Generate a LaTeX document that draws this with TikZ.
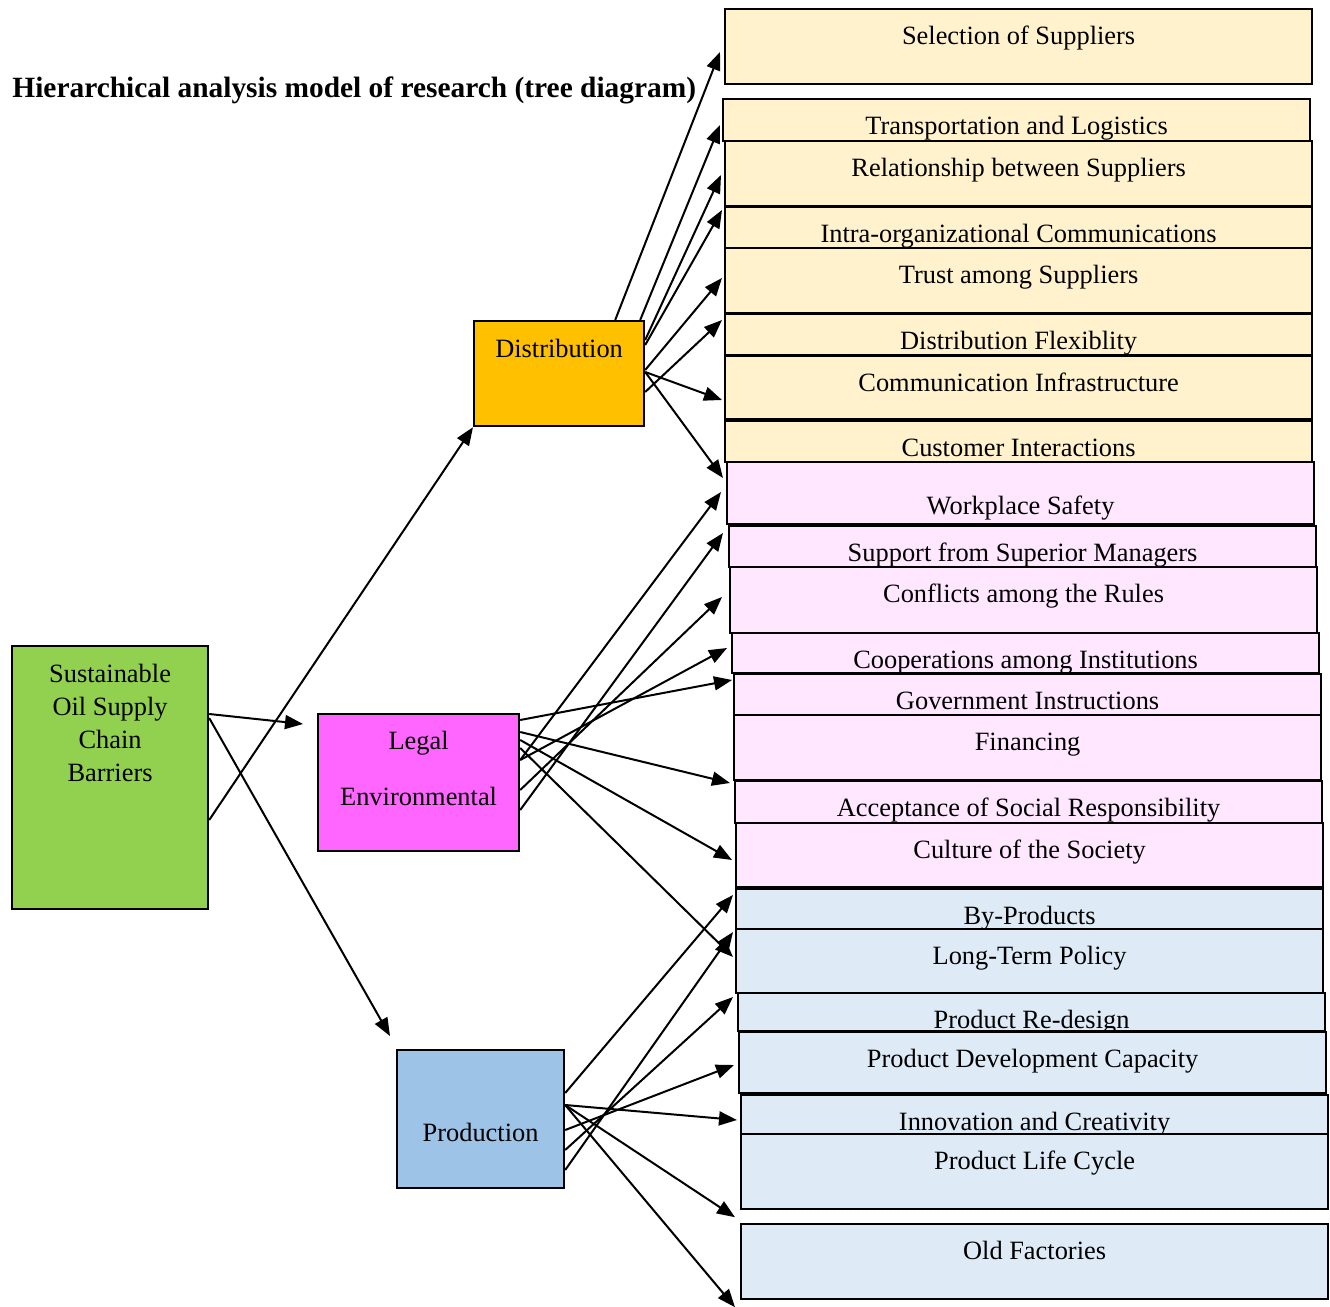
\documentclass[tikz,border=0pt]{standalone}
\usepackage{fontspec}
\setmainfont{Liberation Serif}
\usetikzlibrary{arrows.meta}
\definecolor{barriergreen}{RGB}{146,208,80}
\definecolor{distorange}{RGB}{255,192,0}
\definecolor{legalpink}{RGB}{255,102,255}
\definecolor{prodblue}{RGB}{157,195,230}
\definecolor{leafyellow}{RGB}{255,242,204}
\definecolor{leafpink}{RGB}{255,232,255}
\definecolor{leafblue}{RGB}{222,235,247}

\begin{document}
\begin{tikzpicture}[x=0.5pt,y=-0.5pt]

\tikzstyle{box} = [draw=black, line width=1.1pt, inner sep=0, anchor=north west, font=\fontsize{13.2}{16.5}\selectfont]
\tikzstyle{yellow-b} = [box, fill=leafyellow, minimum width=293.5pt, text height=17.5pt]
\tikzstyle{pink-b} = [box, fill=leafpink, minimum width=293.5pt, text height=17.5pt]
\tikzstyle{blue-b} = [box, fill=leafblue, minimum width=293.5pt, text height=17.5pt]
\tikzstyle{arrow_line} = [line width=1pt, -{Triangle[length=9pt,width=7pt]}]

\useasboundingbox (0,0) rectangle (1330,1307);

\node [anchor=base west, inner sep=0, font=\fontsize{14.7}{17}\selectfont\bfseries] (title) at (12,97) {Hierarchical analysis model of research (tree diagram)};

% main blocks
\node [box, fill=barriergreen, minimum width=98pt, text height=18pt, text depth=113.5pt] (barriers) at (11,645) {\begin{tabular}[t]{c} Sustainable\\ Oil Supply\\ Chain\\ Barriers\end{tabular}};
\node [box, fill=distorange, minimum width=85pt, text height=18pt, text depth=34.5pt] (dist) at (473,320) {Distribution};
\node [box, fill=legalpink, minimum width=100.5pt, text height=17.5pt, text depth=51pt] (legal) at (317,713) {\begin{tabular}[t]{c} Legal\\[11.5pt] Environmental\end{tabular}};
\node [box, fill=prodblue, minimum width=83.5pt, text height=45.5pt, text depth=23.5pt] (prod) at (396,1049) {Production};

% distribution factors
\node [yellow-b, text depth=20pt] (sel) at (724,8) {Selection of Suppliers};
\node [yellow-b, text depth=3.5pt] (trans) at (722,98) {Transportation and Logistics};
\node [yellow-b, text depth=15pt] (rel) at (724,140) {Relationship between Suppliers};
\node [yellow-b, text depth=3pt] (intra) at (724,206) {Intra-organizational Communications};
\node [yellow-b, text depth=15pt] (trust) at (724,247) {Trust among Suppliers};
\node [yellow-b, text depth=3pt] (flex) at (724,313) {Distribution Flexiblity};
\node [yellow-b, text depth=14pt] (infra) at (724,355) {Communication Infrastructure};
\node [yellow-b, text depth=3pt] (cust) at (724,420) {Customer Interactions};

% legal environmental factors
\node [pink-b, text height=26pt, text depth=5pt] (safety) at (726,461) {Workplace Safety};
\node [pink-b, text depth=3pt] (support) at (728,525) {Support from Superior Managers};
\node [pink-b, text depth=15.5pt] (conflicts) at (729,566) {Conflicts among the Rules};
\node [pink-b, text depth=2.5pt] (coop) at (731,632) {Cooperations among Institutions};
\node [pink-b, text depth=3pt] (gov) at (733,673) {Government Instructions};
\node [pink-b, text depth=15pt] (fin) at (733,714) {Financing};
\node [pink-b, text depth=3.5pt] (accept) at (734,780) {Acceptance of Social Responsibility};
\node [pink-b, text depth=14.5pt] (culture) at (735,822) {Culture of the Society};

% production factors
\node [blue-b, text depth=2.5pt] (byprod) at (735,888) {By-Products};
\node [blue-b, text depth=14.5pt] (longterm) at (735,928) {Long-Term Policy};
\node [blue-b, text depth=1.5pt] (redesign) at (737,992) {Product Re-design};
\node [blue-b, text depth=13pt] (devcap) at (738,1031) {Product Development Capacity};
\node [blue-b, text depth=2pt] (innov) at (740,1094) {Innovation and Creativity};
\node [blue-b, text depth=20pt] (lifecycle) at (740,1133) {Product Life Cycle};
\node [blue-b, text depth=20pt] (oldfac) at (740,1223) {Old Factories};

% barriers to criteria
\draw [arrow_line] ([shift={(0,175)}]barriers.north east) -- (dist.south west);
\draw [arrow_line] ([shift={(0,69)}]barriers.north east) -- ([shift={(-14,11)}]legal.north west);
\draw [arrow_line] ([shift={(0,73)}]barriers.north east) -- ([shift={(-6,-13)}]prod.north west);

% distribution arrows
\draw [arrow_line] ([shift={(-30,0)}]dist.north east) -- ([shift={(-4,44)}]sel.north west);
\draw [arrow_line] ([shift={(-5,0)}]dist.north east) -- ([shift={(-2,27)}]trans.north west);
\draw [arrow_line] ([shift={(0,20)}]dist.north east) -- ([shift={(-3,35)}]rel.north west);
\draw [arrow_line] ([shift={(0,25)}]dist.north east) -- ([shift={(-2,4)}]intra.north west);
\draw [arrow_line] ([shift={(0,50)}]dist.north east) -- ([shift={(-2,31)}]trust.north west);
\draw [arrow_line] ([shift={(0,72)}]dist.north east) -- ([shift={(-2,7)}]flex.north west);
\draw [arrow_line] ([shift={(0,52)}]dist.north east) -- ([shift={(-2,45)}]infra.north west);
\draw [arrow_line] ([shift={(0,52)}]dist.north east) -- ([shift={(-3,17)}]safety.north west);

% legal environmental arrows
\draw [arrow_line] ([shift={(0,47)}]legal.north east) -- ([shift={(-5,31)}]safety.north west);
\draw [arrow_line] ([shift={(0,97)}]legal.north east) -- ([shift={(-5,8)}]support.north west);
\draw [arrow_line] ([shift={(0,77)}]legal.north east) -- ([shift={(-7,31)}]conflicts.north west);
\draw [arrow_line] ([shift={(0,47)}]legal.north east) -- ([shift={(-4,16)}]coop.north west);
\draw [arrow_line] ([shift={(0,7)}]legal.north east) -- ([shift={(-1,7)}]gov.north west);
\draw [arrow_line] ([shift={(0,19)}]legal.north east) -- ([shift={(-4,3)}]accept.north west);
\draw [arrow_line] ([shift={(0,27)}]legal.north east) -- ([shift={(-3,38)}]culture.north west);
\draw [arrow_line] ([shift={(0,35)}]legal.north east) -- ([shift={(-2,29)}]longterm.north west);

% production arrows
\draw [arrow_line] ([shift={(0,44)}]prod.north east) -- ([shift={(-2,7)}]byprod.north west);
\draw [arrow_line] ([shift={(0,121)}]prod.north east) -- ([shift={(-2,4)}]longterm.north west);
\draw [arrow_line] ([shift={(0,101)}]prod.north east) -- ([shift={(-4,5)}]redesign.north west);
\draw [arrow_line] ([shift={(0,81)}]prod.north east) -- ([shift={(-4,34)}]devcap.north west);
\draw [arrow_line] ([shift={(0,56)}]prod.north east) -- ([shift={(-3,26)}]innov.north west);
\draw [arrow_line] ([shift={(0,56)}]prod.north east) -- ([shift={(-5,7)}]lifecycle.south west);
\draw [arrow_line] ([shift={(0,56)}]prod.north east) -- ([shift={(-5,7)}]oldfac.south west);

\end{tikzpicture}
\end{document}
